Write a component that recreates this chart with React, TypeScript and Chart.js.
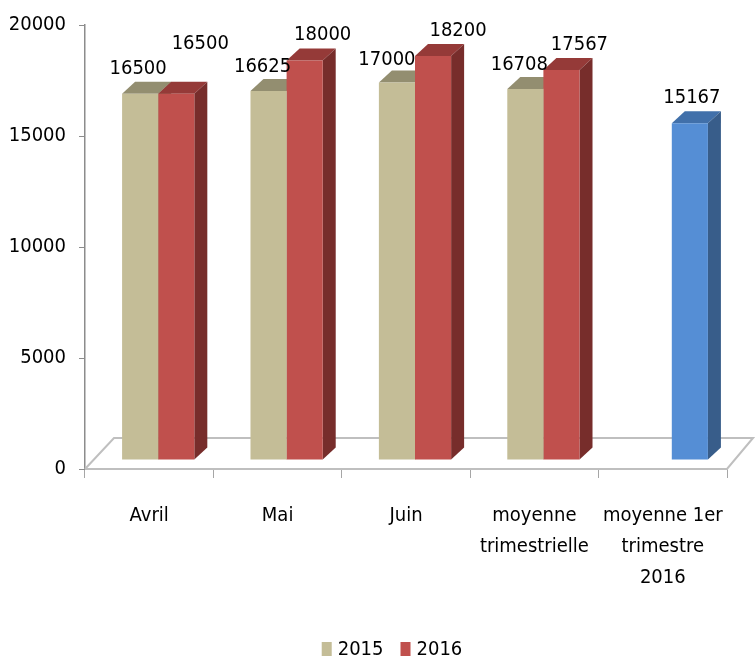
import { useEffect, useRef } from 'react';
import { Chart, registerables } from 'chart.js';

Chart.register(...registerables);

// ---- data ----
const categories: (string | string[])[] = [
  'Avril',
  'Mai',
  'Juin',
  ['moyenne', 'trimestrielle'],
  ['moyenne 1er', 'trimestre', '2016'],
];
const seriesNames = ['2015', '2016'];
const values2015: (number | null)[] = [16500, 16625, 17000, 16708, null];
const values2016: number[] = [16500, 18000, 18200, 17567, 15167];
const yTickStep = 5000;
const yMax = 20000;

// ---- label offsets (layout only) ----
const labelDx2015 = [-2, -6, -10, -6, 0];
const labelDy2015 = [-25, -24, -23, -24, 0];
const labelDx2016 = [24, 18, 25, 18, 2];
const labelDy2016 = [-50, -26, -25, -25, -25];

// ---- styles ----
const FONT = "'Liberation Sans Narrow', 'DejaVu Sans Condensed', 'Open Sans', sans-serif";
const TAN = '#C4BD97';
const TAN_TOP = '#938E70';
const TAN_SIDE = '#7F7A5E';
const RED = '#C0504D';
const RED_TOP = '#953A38';
const RED_SIDE = '#772D2B';
const BLUE = '#558ED5';
const BLUE_TOP = '#4170AA';
const BLUE_SIDE = '#385D8A';
const LEGEND_COLORS = [TAN, RED];

const SHIFT_X = 9;
const SHIFT_Y = -9;
const DEPTH_X = 13;
const DEPTH_Y = -12;
const FLOOR_DX = 29;
const FLOOR_DY = -31;

const bar3d = {
  id: 'bar3d',
  beforeDatasetsDraw(chart: any) {
    const { ctx, chartArea } = chart;
    const x0 = chartArea.left;
    const x1 = chartArea.right;
    const yb = chartArea.bottom;
    ctx.save();
    ctx.strokeStyle = '#BFBFBF';
    ctx.lineWidth = 2;
    ctx.beginPath();
    ctx.moveTo(x0, yb);
    ctx.lineTo(x0 + FLOOR_DX, yb + FLOOR_DY);
    ctx.lineTo(x1 + FLOOR_DX - 3, yb + FLOOR_DY);
    ctx.lineTo(x1, yb);
    ctx.lineTo(x0, yb);
    ctx.stroke();
    ctx.restore();

    ctx.save();
    ctx.translate(SHIFT_X, SHIFT_Y);
    const n = chart.data.labels.length;
    for (let i = 0; i < n; i++) {
      chart.data.datasets.forEach((ds: any, d: number) => {
        const v = ds.data[i];
        if (v === null || v === undefined) return;
        const el = chart.getDatasetMeta(d).data[i];
        if (!el) return;
        const { x, y, base, width } = el.getProps(['x', 'y', 'base', 'width'], true);
        const l = x - width / 2;
        const r = x + width / 2;
        ctx.fillStyle = ds.topColors[i];
        ctx.beginPath();
        ctx.moveTo(l, y);
        ctx.lineTo(l + DEPTH_X, y + DEPTH_Y);
        ctx.lineTo(r + DEPTH_X, y + DEPTH_Y);
        ctx.lineTo(r, y);
        ctx.closePath();
        ctx.fill();
        ctx.fillStyle = ds.sideColors[i];
        ctx.beginPath();
        ctx.moveTo(r, y);
        ctx.lineTo(r + DEPTH_X, y + DEPTH_Y);
        ctx.lineTo(r + DEPTH_X, base + DEPTH_Y);
        ctx.lineTo(r, base);
        ctx.closePath();
        ctx.fill();
      });
    }
  },
  afterDatasetsDraw(chart: any) {
    const { ctx } = chart;
    ctx.restore();
    ctx.save();
    ctx.font = `20px ${FONT}`;
    ctx.fillStyle = '#000';
    ctx.textAlign = 'center';
    ctx.textBaseline = 'middle';
    chart.data.datasets.forEach((ds: any, d: number) => {
      const meta = chart.getDatasetMeta(d);
      ds.data.forEach((v: number | null, i: number) => {
        if (v === null || v === undefined) return;
        const el = meta.data[i];
        const { x, y } = el.getProps(['x', 'y'], true);
        const dx = d === 0 ? labelDx2015[i] : labelDx2016[i];
        const dy = d === 0 ? labelDy2015[i] : labelDy2016[i];
        ctx.fillText(String(v), x + SHIFT_X + dx, y + SHIFT_Y + dy);
      });
    });
    ctx.restore();
  },
  afterDraw(chart: any) {
    // legend
    const { ctx } = chart;
    ctx.save();
    ctx.font = `20px ${FONT}`;
    ctx.textBaseline = 'middle';
    ctx.textAlign = 'left';
    const box = 10;
    const gap = 6;
    const itemGap = 17;
    const widths = seriesNames.map((s) => ctx.measureText(s).width);
    const total = widths.reduce((a, w) => a + box + gap + w, 0) + itemGap * (seriesNames.length - 1);
    const cx = 392;
    const cy = 650;
    let x = cx - total / 2;
    seriesNames.forEach((s, i) => {
      ctx.fillStyle = LEGEND_COLORS[i];
      ctx.fillRect(x, cy - 8, box, 14);
      ctx.fillStyle = '#000';
      ctx.fillText(s, x + box + gap, cy);
      x += box + gap + widths[i] + itemGap;
    });
    ctx.restore();
  },
};

export default function App() {
  const ref = useRef<HTMLCanvasElement | null>(null);
  useEffect(() => {
    if (!ref.current) return;
    const chart = new Chart(ref.current, {
      type: 'bar',
      data: {
        labels: categories as any,
        datasets: [
          {
            label: seriesNames[0],
            data: values2015,
            backgroundColor: TAN,
            borderWidth: 0,
            topColors: values2015.map(() => TAN_TOP),
            sideColors: values2015.map(() => TAN_SIDE),
          } as any,
          {
            label: seriesNames[1],
            data: values2016,
            backgroundColor: values2016.map((_, i) => (i === values2016.length - 1 ? BLUE : RED)),
            borderWidth: 0,
            topColors: values2016.map((_, i) => (i === values2016.length - 1 ? BLUE_TOP : RED_TOP)),
            sideColors: values2016.map((_, i) => (i === values2016.length - 1 ? BLUE_SIDE : RED_SIDE)),
          } as any,
        ],
      },
      options: {
        animation: false,
        responsive: false,
        layout: { padding: { top: 24, right: 28, left: 0, bottom: 20 } },
        datasets: { bar: { barPercentage: 1, categoryPercentage: 0.5625 } } as any,
        scales: {
          x: {
            grid: { display: true, drawOnChartArea: false, drawTicks: true, tickLength: 9, color: '#A6A6A6', offset: true },
            border: { display: true, color: '#BFBFBF', width: 2 },
            ticks: { color: '#000', font: { family: FONT, size: 20, lineHeight: '31px' } as any, padding: 22, maxRotation: 0, autoSkip: false },
            afterFit: (s: any) => { s.height = 172; },
          },
          y: {
            min: 0,
            max: yMax,
            grid: { display: true, drawOnChartArea: false, drawTicks: true, tickLength: 6, color: '#8C8C8C' },
            border: { display: true, color: '#8C8C8C', width: 1.5 },
            ticks: {
              stepSize: yTickStep,
              color: '#000',
              font: { family: FONT, size: 20 },
              padding: 13,
              callback: (v: any) => String(v),
            },
            afterFit: (s: any) => { s.width = 85; },
          },
        },
        plugins: {
          legend: { display: false },
          tooltip: { enabled: false },
        },
      },
      plugins: [bar3d],
    });
    return () => chart.destroy();
  }, []);
  return (
    <div style={{ position: 'absolute', left: 0, top: 0, width: 755, height: 661, background: '#fff' }}>
      <canvas ref={ref} width={755} height={661} />
    </div>
  );
}
